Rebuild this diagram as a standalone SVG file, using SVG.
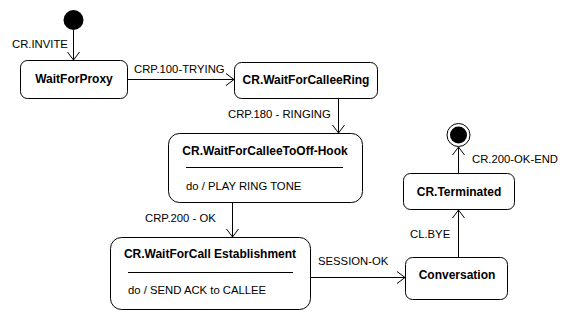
<svg xmlns="http://www.w3.org/2000/svg" width="564" height="320" viewBox="0 0 564 320">
  <defs>
    <style>
      .state { fill: #ffffff; stroke: #000000; stroke-width: 1; }
      .sep { stroke: #000000; stroke-width: 1; }
      .title { font-family: "Liberation Sans", Arial, sans-serif; font-size: 12px; font-weight: bold; fill: #000000; }
      .body { font-family: "Liberation Sans", Arial, sans-serif; font-size: 11.3px; fill: #000000; }
      .lbl { font-family: "Liberation Sans", Arial, sans-serif; font-size: 11.3px; fill: #000000; }
      .edge { fill: none; stroke: #000000; stroke-width: 1; marker-end: url(#open); }
    </style>
    <marker id="open" viewBox="0 0 9 13" refX="8.5" refY="6.5" markerWidth="9" markerHeight="13" markerUnits="userSpaceOnUse" orient="auto">
      <path d="M0.5,0.5 L8.5,6.5 L0.5,12.5" fill="none" stroke="#000000" stroke-width="1"/>
    </marker>
  </defs>

  <rect width="564" height="320" fill="#ffffff"/>

  <!-- transitions -->
  <g id="connectors">
    <path class="edge" d="M73.5,29 V60"/>
    <text class="lbl" x="12" y="48">CR.INVITE</text>

    <path class="edge" d="M128,79.5 H234"/>
    <text class="lbl" x="134" y="73">CRP.100-TRYING</text>

    <path class="edge" d="M338.5,99 V133"/>
    <text class="lbl" x="228" y="118">CRP.180 - RINGING</text>

    <path class="edge" d="M232.5,203 V237"/>
    <text class="lbl" x="145" y="222">CRP.200 - OK</text>

    <path class="edge" d="M311,277.5 H405"/>
    <text class="lbl" x="318" y="265">SESSION-OK</text>

    <path class="edge" d="M458.5,257 V210"/>
    <text class="lbl" x="410" y="238">CL.BYE</text>

    <path class="edge" d="M458.5,173 V147"/>
    <text class="lbl" x="472" y="163">CR.200-OK-END</text>
  </g>

  <!-- initial pseudo-state -->
  <g id="initial">
    <circle cx="73.5" cy="20" r="10" fill="#000000"/>
  </g>

  <g id="WaitForProxy">
    <rect class="state" x="20.5" y="60.5" width="107" height="38" rx="7"/>
    <text class="title" x="74" y="83" text-anchor="middle">WaitForProxy</text>
  </g>

  <g id="WaitForCalleeRing">
    <rect class="state" x="234.5" y="62.5" width="143" height="36" rx="7"/>
    <text class="title" x="306" y="84" text-anchor="middle">CR.WaitForCalleeRing</text>
  </g>

  <g id="WaitForCalleeToOffHook">
    <rect class="state" x="168.5" y="133.5" width="194" height="69" rx="11"/>
    <text class="title" x="265" y="155" text-anchor="middle">CR.WaitForCalleeToOff-Hook</text>
    <line class="sep" x1="186" y1="167.5" x2="343" y2="167.5"/>
    <text class="body" x="186" y="190">do / PLAY RING TONE</text>
  </g>

  <g id="WaitForCallEstablishment">
    <rect class="state" x="110.5" y="237.5" width="200" height="72" rx="11"/>
    <text class="title" x="210" y="258" text-anchor="middle">CR.WaitForCall Establishment</text>
    <line class="sep" x1="128" y1="272.5" x2="293" y2="272.5"/>
    <text class="body" x="128" y="294">do / SEND ACK to CALLEE</text>
  </g>

  <g id="Conversation">
    <rect class="state" x="405.5" y="257.5" width="102" height="42" rx="7"/>
    <text class="title" x="457" y="279" text-anchor="middle">Conversation</text>
  </g>

  <g id="Terminated">
    <rect class="state" x="403.5" y="173.5" width="111" height="36" rx="7"/>
    <text class="title" x="459" y="196" text-anchor="middle">CR.Terminated</text>
  </g>

  <!-- final state -->
  <g id="final">
    <circle cx="458.5" cy="135" r="11.5" fill="#ffffff" stroke="#000000" stroke-width="1"/>
    <circle cx="458.5" cy="135" r="8.5" fill="#000000"/>
  </g>
</svg>
